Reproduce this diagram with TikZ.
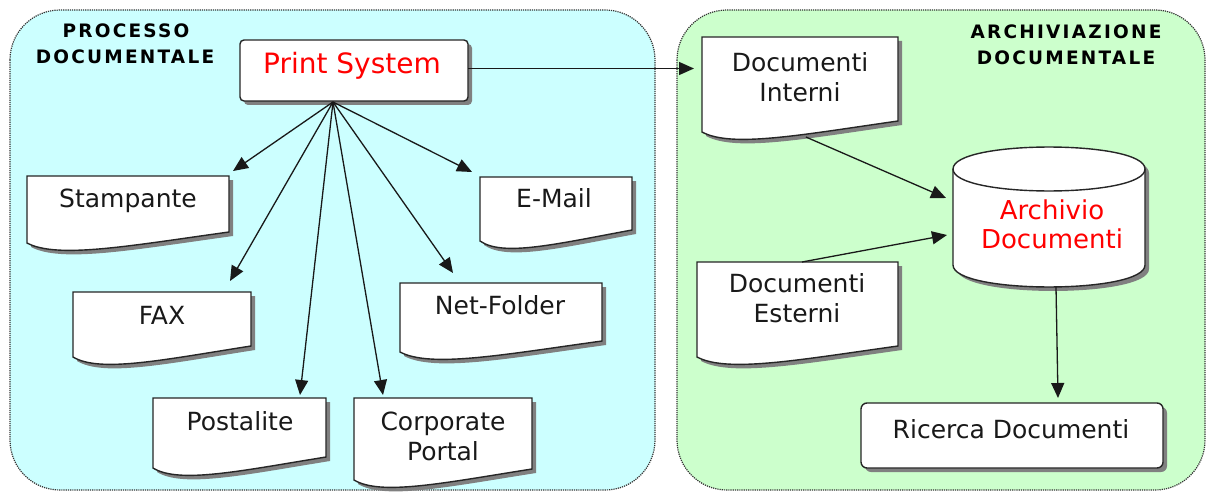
\documentclass[tikz,border=0pt]{standalone}
\usepackage{fontspec}
\setmainfont{DejaVu Sans}
\newfontfamily\titlefont[LetterSpace=12]{DejaVu Sans}
\usetikzlibrary{arrows.meta,calc,shadows}
\definecolor{cyanbg}{RGB}{204,255,255}
\definecolor{greenbg}{RGB}{204,255,204}
\definecolor{shadegray}{RGB}{128,128,128}
\definecolor{inkred}{RGB}{255,0,0}
\tikzset{
  panel/.style={draw=black!80, densely dotted, line width=1.2pt, rounded corners=50pt},
  boxline/.style={draw=black!85, line width=1.4pt, fill=white,
    drop shadow={shadow xshift=4pt, shadow yshift=-4pt, fill=shadegray, opacity=1}},
  boxarea/.style={draw=none, fill=none, inner sep=0pt, outer sep=0pt, rectangle},
  lbl/.style={font=\fontsize{25}{30}\selectfont, text=black!90, align=center, inner sep=0pt},
  redlbl/.style={text=inkred, align=center, inner sep=0pt},
  ttl/.style={font=\titlefont\bfseries\fontsize{18.5}{20}\selectfont, text=black, inner sep=0pt},
  arr/.style={draw=black!90, line width=1.3pt, -{Triangle[length=15pt,width=13pt]}}
}
\newcommand\docbox[5]{%
  \node[boxarea, anchor=north west, minimum width={#4-#2}, minimum height={#5-#3}] (#1) at (#2,#3) {};
  \path[boxline] (#1.north west) -- (#1.north east) -- ($(#1.south east)+(0,-11)$)
    .. controls ($(#1.south west)!0.5!(#1.south east)+(0,3)$) and ($(#1.south west)!0.15!(#1.south east)+(0,16)$)
    .. (#1.south west) -- cycle;
}
\begin{document}
\begin{tikzpicture}[x=1pt,y=-1pt]
\useasboundingbox (0,0) rectangle (1214,492);
\fill[white] (0,0) rectangle (1214,492);

% panels
\path[panel, fill=cyanbg] (10,10) rectangle (655,490);
\path[panel, fill=greenbg] (677,10) rectangle (1205,490);

\node[ttl, anchor=base] (t1a) at (126,38) {PROCESSO};
\node[ttl, anchor=base] (t1b) at (125,64) {DOCUMENTALE};
\node[ttl, anchor=base] (t2a) at (1066,39) {ARCHIVIAZIONE};
\node[ttl, anchor=base] (t2b) at (1066,65) {DOCUMENTALE};

% Print System
\node[boxline, boxarea, draw=black!85, fill=white, rounded corners=4pt, anchor=north west,
  minimum width=228, minimum height=61] (ps) at (240,40) {};
\node[redlbl, font=\fontsize{28}{30}\selectfont, anchor=base] (ps-t) at (352,74) {Print System};

% document shapes
\docbox{stamp}{27}{176}{229}{243}
\docbox{email}{480}{177}{632}{241}
\docbox{fax}{73}{292}{251}{357}
\docbox{net}{400}{283}{602}{352}
\docbox{post}{153}{398}{326}{468}
\docbox{corp}{354}{398}{532}{480}
\docbox{interni}{702}{37}{898}{132}
\docbox{esterni}{697}{262}{898}{357}

\node[lbl, anchor=base] (stamp-t) at (128,207) {Stampante};
\node[lbl, anchor=base] (email-t) at (554,207) {E-Mail};
\node[lbl, anchor=base] (fax-t) at (162,324) {FAX};
\node[lbl, anchor=base] (net-t) at (500,314) {Net-Folder};
\node[lbl, anchor=base] (post-t) at (240,430) {Postalite};
\node[lbl] (corp-t) at (443,436) {Corporate\\Portal};
\node[lbl] (interni-t) at (800,77) {Documenti\\Interni};
\node[lbl] (esterni-t) at (797,298) {Documenti\\Esterni};

% cylinder
\node[boxarea, anchor=north west, minimum width=192, minimum height=140] (arch) at (953,147) {};
\path[boxline] ($(arch.north west)+(0,22)$) -- ($(arch.south west)+(0,-22)$)
  .. controls ($(arch.south west)+(0,7.3)$) and ($(arch.south east)+(0,7.3)$) .. ($(arch.south east)+(0,-22)$)
  -- ($(arch.north east)+(0,22)$)
  .. controls ($(arch.north east)+(0,-7.3)$) and ($(arch.north west)+(0,-7.3)$) .. cycle;
\draw[draw=black!85, line width=1.4pt] ($(arch.north west)+(0,22)$)
  .. controls ($(arch.north west)+(0,51.3)$) and ($(arch.north east)+(0,51.3)$) .. ($(arch.north east)+(0,22)$);
\node[redlbl, font=\fontsize{26}{29}\selectfont] (arch-t) at (1052,224) {Archivio\\Documenti};

% Ricerca
\node[boxline, boxarea, draw=black!85, fill=white, rounded corners=6pt, anchor=north west,
  minimum width=302, minimum height=65] (ricerca) at (861,403) {};
\node[lbl, anchor=base] (ricerca-t) at (1011,438) {Ricerca Documenti};

% connectors
\coordinate (fan) at (333,102);
\draw[arr] (fan) -- ($(stamp.north east)+(4,-5)$);
\draw[arr] (fan) -- ($(fax.north east)+(-21,-11)$);
\draw[arr] (fan) -- ($(post.north east)+(-26,-3)$);
\draw[arr] (fan) -- ($(corp.north west)+(29,-3)$);
\draw[arr] (fan) -- ($(net.north west)+(53,-10)$);
\draw[arr] (fan) -- ($(email.north west)+(-8,-5)$);
\draw[arr] ($(ps.east)+(0,-2)$) -- ($(interni.west |- ps.east)+(-8,-2)$);
\draw[arr] ($(interni.south west)!0.53!(interni.south east)+(0,5)$) -- ($(arch.west)+(-7,-19)$);
\draw[arr] ($(esterni.north west)+(105,0)$) -- ($(arch.west)+(-6,18)$);
\draw[arr] ($(arch.south)+(7,0)$) -- ($(ricerca.north)+(46,-5)$);
\end{tikzpicture}
\end{document}
